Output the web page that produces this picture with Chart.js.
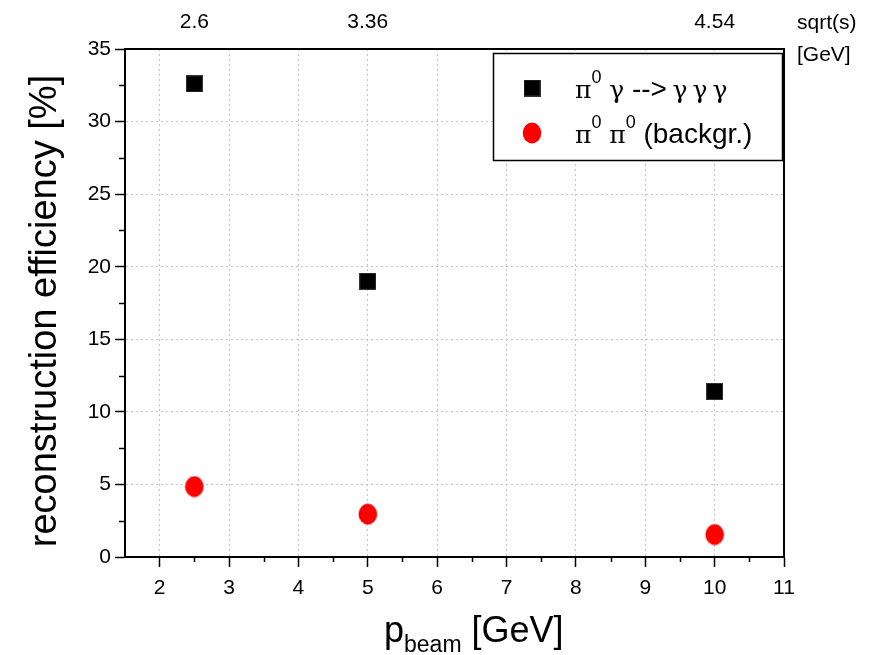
<!DOCTYPE html>
<html>
<head>
<meta charset="utf-8">
<script src="https://cdn.jsdelivr.net/npm/chart.js@4/dist/chart.umd.min.js"></script>
<style>
  html, body { margin: 0; padding: 0; background: #fff; }
  canvas { display: block; }
</style>
</head>
<body>
<canvas id="c" width="883" height="655"></canvas>
<script>
// Beam momentum [GeV] and the corresponding centre-of-mass energies
const pBeam = [2.5, 5, 10];
const sqrtS = ['2.6', '3.36', '4.54'];
// Reconstruction efficiency [%]
const effSignal = [32.6, 19.0, 11.4];       // pi0 gamma --> gamma gamma gamma
const effBackground = [4.85, 2.95, 1.55];   // pi0 pi0 (background)
// Axis tick values
const xTicks = [2, 3, 4, 5, 6, 7, 8, 9, 10, 11];
const yTicks = [0, 5, 10, 15, 20, 25, 30, 35];

const FONT = "'Liberation Sans', Arial, sans-serif";
const GREEK = "'DejaVu Serif', 'Liberation Serif', serif";

// Marker sprites: filled square and slightly tall red ellipse
function squareSprite() {
  const c = document.createElement('canvas');
  c.width = 17; c.height = 17;
  const g = c.getContext('2d');
  g.fillStyle = '#000';
  g.fillRect(0.5, 0.5, 16, 16);
  g.strokeStyle = '#333';
  g.lineWidth = 1;
  g.strokeRect(0.5, 0.5, 16, 16);
  return c;
}
function ellipseSprite() {
  const c = document.createElement('canvas');
  c.width = 20; c.height = 22;
  const g = c.getContext('2d');
  g.fillStyle = '#ff0000';
  g.beginPath();
  g.ellipse(10, 11, 9.3, 10.4, 0, 0, Math.PI * 2);
  g.fill();
  return c;
}
const sq = squareSprite();
const el = ellipseSprite();

const toPoints = (ys) => pBeam.map((x, i) => ({ x, y: ys[i] }));

const extras = {
  id: 'extras',
  afterDraw(chart) {
    const ctx = chart.ctx;
    const a = chart.chartArea;
    const sx = chart.scales.x, sy = chart.scales.y;
    ctx.save();

    // minor ticks
    ctx.strokeStyle = '#000';
    ctx.lineWidth = 1.5;
    ctx.beginPath();
    for (let v = 2.5; v < 11; v += 1) {
      const px = Math.round(sx.getPixelForValue(v)) + 0.5;
      ctx.moveTo(px, a.bottom);
      ctx.lineTo(px, a.bottom + 5);
    }
    for (let v = 2.5; v < 35; v += 5) {
      const py = Math.round(sy.getPixelForValue(v)) + 0.5;
      ctx.moveTo(a.left, py);
      ctx.lineTo(a.left - 6, py);
    }
    ctx.stroke();

    // y title
    ctx.fillStyle = '#000';
    ctx.save();
    ctx.translate(46, 311);
    ctx.rotate(-Math.PI / 2);
    ctx.font = '38px ' + FONT;
    ctx.textAlign = 'center';
    ctx.textBaseline = 'middle';
    ctx.fillText('reconstruction efficiency [%]', 0, 0);
    ctx.restore();

    // x title with subscript
    ctx.textAlign = 'left';
    ctx.textBaseline = 'alphabetic';
    let x = 384;
    ctx.font = '36px ' + FONT;
    ctx.fillText('p', x, 642);
    x += ctx.measureText('p').width;
    ctx.font = '23px ' + FONT;
    ctx.fillText('beam', x, 652);
    x += ctx.measureText('beam').width;
    ctx.font = '36px ' + FONT;
    ctx.fillText(' [GeV]', x, 642);

    // top axis unit
    ctx.font = '21px ' + FONT;
    ctx.textBaseline = 'middle';
    ctx.fillText('sqrt(s)', 797, 23);
    ctx.fillText('[GeV]', 797, 55);

    // legend box
    const L = { l: 493, t: 53, r: 782, b: 160 };
    ctx.fillStyle = '#fff';
    ctx.fillRect(L.l, L.t, L.r - L.l, L.b - L.t);
    ctx.strokeStyle = '#000';
    ctx.lineWidth = 1.5;
    ctx.strokeRect(L.l + 0.5, L.t + 0.5, L.r - L.l, L.b - L.t);

    ctx.drawImage(sq, 532 - sq.width / 2, 88 - sq.height / 2);
    ctx.drawImage(el, 532 - el.width / 2, 133 - el.height / 2);

    ctx.fillStyle = '#000';
    ctx.textBaseline = 'alphabetic';
    const fonts = {
      t: '28px ' + FONT,
      g: '25px ' + GREEK,
      s: '18px ' + FONT
    };
    function run(parts, y) {
      let cx = 575;
      for (const [t, k] of parts) {
        ctx.font = fonts[k];
        ctx.fillText(t, cx, k === 's' ? y - 15 : y);
        cx += ctx.measureText(t).width;
      }
    }
    run([['\u03c0', 'g'], ['0', 's'], [' ', 't'], ['\u03b3', 'g'], [' -->', 't'],
         ['\u2009', 't'], ['\u03b3\u2009\u03b3\u2009\u03b3', 'g']], 98);
    run([['\u03c0', 'g'], ['0', 's'], [' ', 't'], ['\u03c0', 'g'], ['0', 's'],
         [' (backgr.)', 't']], 143);

    ctx.restore();
  }
};

const gridStyle = {
  color: '#c4c4c4', lineWidth: 1,
  tickColor: '#000', tickLength: 10, tickWidth: 1.5, tickBorderDash: []
};
const axisBorder = { display: true, color: '#000', width: 2, dash: [2, 3] };

new Chart(document.getElementById('c'), {
  type: 'scatter',
  data: {
    datasets: [
      {
        label: '\u03c0\u2070 \u03b3 --> \u03b3 \u03b3 \u03b3',
        data: toPoints(effSignal),
        pointStyle: sq,
        backgroundColor: '#000',
        borderColor: '#000'
      },
      {
        label: '\u03c0\u2070 \u03c0\u2070 (backgr.)',
        data: toPoints(effBackground),
        pointStyle: el,
        backgroundColor: '#f00',
        borderColor: '#f00'
      }
    ]
  },
  options: {
    responsive: false,
    animation: false,
    layout: { padding: 0 },
    plugins: { legend: { display: false }, tooltip: { enabled: false } },
    scales: {
      x: {
        type: 'linear',
        position: 'bottom',
        min: 1.5, max: 11,
        afterBuildTicks: (s) => { s.ticks = xTicks.map(v => ({ value: v })); },
        afterFit: (s) => { s.height = 98; },
        ticks: { color: '#000', font: { family: FONT, size: 21 }, padding: 9, maxRotation: 0 },
        grid: gridStyle,
        border: axisBorder
      },
      x2: {
        type: 'linear',
        position: 'top',
        min: 1.5, max: 11,
        afterBuildTicks: (s) => { s.ticks = pBeam.map(v => ({ value: v })); },
        afterFit: (s) => { s.height = 49; },
        ticks: {
          color: '#000', font: { family: FONT, size: 21 }, padding: 14, maxRotation: 0,
          callback: (v, i) => sqrtS[i]
        },
        grid: { drawOnChartArea: false, drawTicks: false },
        border: { display: true, color: '#000', width: 2 }
      },
      y: {
        type: 'linear',
        position: 'left',
        min: 0, max: 35,
        afterBuildTicks: (s) => { s.ticks = yTicks.map(v => ({ value: v })); },
        afterFit: (s) => { s.width = 125; },
        ticks: { color: '#000', font: { family: FONT, size: 21 }, padding: 4 },
        grid: gridStyle,
        border: axisBorder
      },
      y2: {
        type: 'linear',
        position: 'right',
        min: 0, max: 35,
        afterFit: (s) => { s.width = 99; },
        ticks: { display: false },
        grid: { drawOnChartArea: false, drawTicks: false },
        border: { display: true, color: '#000', width: 2 }
      }
    }
  },
  plugins: [extras]
});
</script>
</body>
</html>
